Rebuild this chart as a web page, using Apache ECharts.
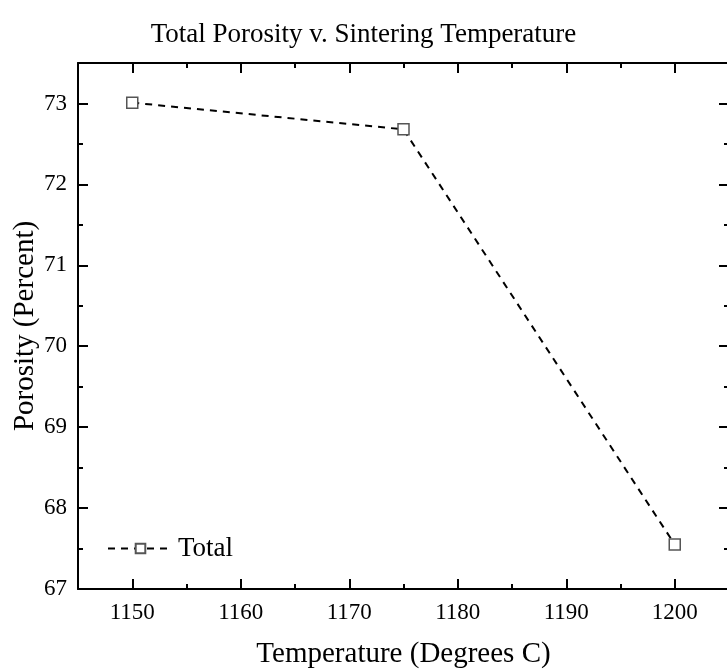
<!DOCTYPE html>
<html><head><meta charset="utf-8">
<script src="https://cdn.jsdelivr.net/npm/echarts@6/dist/echarts.min.js"></script>
<style>html,body{margin:0;padding:0;background:#fff}#c{width:727px;height:669px}</style>
</head><body><div id="c"></div>
<script>
const temperatures = [1150, 1175, 1200];
const porosity = [73.01, 72.68, 67.55];
const seriesName = 'Total';
const titleText = 'Total Porosity v. Sintering Temperature';
const xName = 'Temperature (Degrees C)';
const yName = 'Porosity (Percent)';
const xMajorTicks = [1150, 1160, 1170, 1180, 1190, 1200];
const xMinorTicks = [1145, 1155, 1165, 1175, 1185, 1195, 1205];

const font = 'Liberation Serif';
const chart = echarts.init(document.getElementById('c'), null, {renderer: 'canvas'});
const line = {show: true, lineStyle: {color: '#000', width: 2}};
const tickStyle = {color: '#000', width: 2};
function xAxis(pos, major, withLabels) {
  const a = {type: 'value', min: 1145, max: 1205, position: pos, gridIndex: 0,
    axisLine: major ? line : {show: false},
    axisTick: {show: true, inside: true, length: major ? 10 : 5, lineStyle: tickStyle,
      customValues: major ? xMajorTicks : xMinorTicks},
    axisLabel: {show: !!withLabels, customValues: xMajorTicks,
      formatter: v => String(v),
      fontFamily: font, fontSize: 23, color: '#000', margin: 12},
    splitLine: {show: false}};
  if (withLabels) {
    a.name = xName; a.nameLocation = 'middle'; a.nameGap = 51; a.nameMoveOverlap = false;
    a.nameTextStyle = {fontFamily: font, fontSize: 29, color: '#000'};
  }
  return a;
}
function yAxis(pos, withLabels) {
  const a = {type: 'value', min: 67, max: 73.5, interval: 1, position: pos,
    axisLine: line,
    axisTick: {show: true, inside: true, length: 10, lineStyle: tickStyle},
    minorTick: {show: true, splitNumber: 2, length: 5, lineStyle: tickStyle},
    axisLabel: {show: !!withLabels, fontFamily: font, fontSize: 23, color: '#000', margin: 11,
      formatter: v => (v === 73.5) ? '' : String(v)},
    splitLine: {show: false}};
  if (withLabels) {
    a.name = yName; a.nameLocation = 'middle'; a.nameGap = 38; a.nameMoveOverlap = false;
    a.nameTextStyle = {fontFamily: font, fontSize: 29, color: '#000'};
  }
  return a;
}
chart.setOption({
  animation: false,
  title: {text: titleText, left: 'center', top: 16,
    textStyle: {fontFamily: font, fontSize: 27, fontWeight: 'normal', color: '#000'}},
  grid: {left: 78, top: 63, width: 651, height: 526, containLabel: false, outerBoundsMode: 'none'},
  legend: {left: 102, top: 530, itemWidth: 65, itemHeight: 12, itemGap: 4,
    data: [seriesName],
    textStyle: {fontFamily: font, fontSize: 27, color: '#000'}},
  xAxis: [xAxis('bottom', true, true), xAxis('bottom', false, false),
          xAxis('top', true, false), xAxis('top', false, false)],
  yAxis: [yAxis('left', true), yAxis('right', false)],
  series: [{
    name: seriesName, type: 'line',
    data: temperatures.map((t, i) => [t, porosity[i]]),
    symbol: 'rect', symbolSize: 11,
    itemStyle: {color: '#fff', borderColor: '#555', borderWidth: 1.5},
    lineStyle: {color: '#000', width: 2, type: [7, 6]}
  }]
});
</script></body></html>
